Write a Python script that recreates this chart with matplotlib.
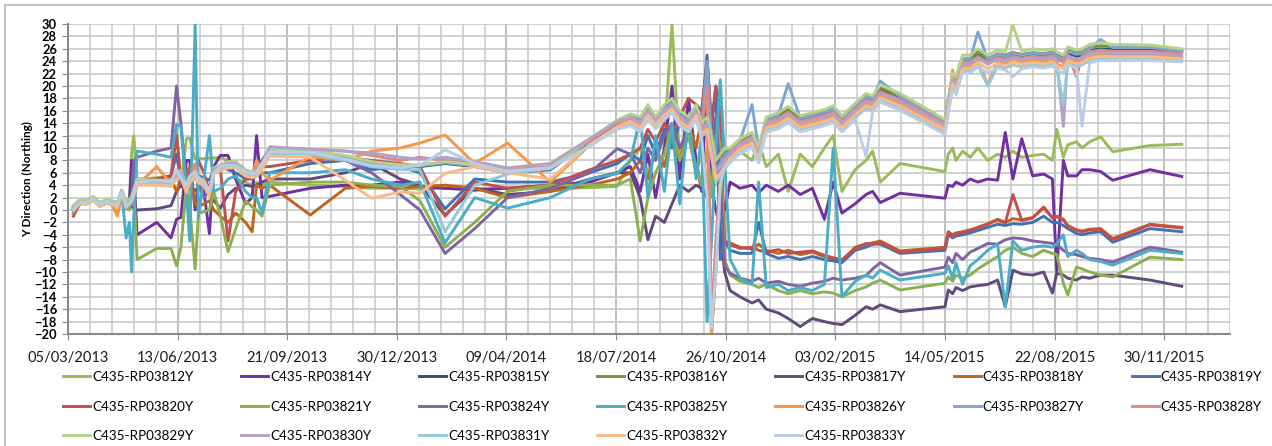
import pandas as pd
import matplotlib
matplotlib.use("Agg")
import matplotlib.pyplot as plt
import matplotlib.dates as mdates
from matplotlib.patches import Rectangle

plt.rcParams['font.family'] = ['Lato', 'DejaVu Sans']

# survey dates (shared by all prisms)
dates = [
    '2013-03-10', '2013-03-16', '2013-03-22', '2013-03-28', '2013-04-03', '2013-04-09', '2013-04-14', '2013-04-19', '2013-04-23', '2013-04-27',
    '2013-04-30', '2013-05-02', '2013-05-04', '2013-05-07', '2013-05-25', '2013-06-07', '2013-06-12', '2013-06-16', '2013-06-21', '2013-06-24',
    '2013-06-29', '2013-07-02', '2013-07-07', '2013-07-12', '2013-07-16', '2013-07-22', '2013-07-29', '2013-08-05', '2013-08-14', '2013-08-20',
    '2013-08-24', '2013-08-29', '2013-09-05',
    '2013-10-12', '2013-11-13', '2013-12-07', '2014-01-02', '2014-01-20', '2014-02-12', '2014-03-11', '2014-04-10', '2014-05-19', '2014-06-24',
    '2014-07-19',
    '2014-07-31', '2014-08-09', '2014-08-16', '2014-08-23', '2014-08-31', '2014-09-07', '2014-09-14', '2014-09-22', '2014-09-29', '2014-10-04',
    '2014-10-09', '2014-10-13', '2014-10-17', '2014-10-21', '2014-10-25',
    '2014-10-30', '2014-11-08', '2014-11-19', '2014-11-25', '2014-12-02', '2014-12-13', '2014-12-22', '2015-01-02', '2015-01-13', '2015-01-24',
    '2015-02-01', '2015-02-09', '2015-02-21', '2015-03-03', '2015-03-09', '2015-03-16', '2015-04-03', '2015-05-14',
    '2015-05-17', '2015-05-21', '2015-05-24', '2015-05-30', '2015-06-06', '2015-06-13', '2015-06-22', '2015-07-01', '2015-07-08', '2015-07-15',
    '2015-07-23', '2015-08-02', '2015-08-12', '2015-08-20', '2015-08-24', '2015-08-30', '2015-09-03', '2015-09-11', '2015-09-16', '2015-09-23',
    '2015-10-03', '2015-10-14', '2015-11-17', '2015-12-16',
]

y3812 = [-0.5, 1.2, 1.0, 1.8, 0.8, 1.2, 1.0, 0.5, 2.5, 0.5,
         2, 9, 12, 5, 5.2, 5.5, 13, 4, 11.5, 11.6, 8.2, 8.3, 8.3, 8.4, 8.4, 8.5, 8, 5, 4.5, 4, 4.5, 4, 4.5,
         4, 3.8, 3.5, 3.5, 3.4, 3.5, 3.5, 3.5, 3.5, 3.6, 3.8,
         8, 10, 6, 9, 12, 30, 8, 12, 6, 9, 5, 3, 8, 16, 9,
         8, 9.5, 8, 11, 7, 9, 3, 9, 7, 10, 12, 3, 6.5, 8, 9.5, 4.5, 7.5, 6.2,
         9, 10, 8, 9.5, 8.5, 10, 8, 9, 8.5, 9.5, 8.5, 8.8, 9, 8, 13, 8.5, 10.5, 11, 10, 11, 11.8, 9.4, 10.4, 10.6]
y3814 = [0, 1.3, 1.2, 1.9, 0.9, 1.4, 1.1, 0.6, 2.8, 0.8,
         0.5, 8, 6, -4, -2, -4.5, -1.5, -1.2, 8, 8, 0, 5, 3, -3.8, 7, 8.8, 8.8, 5, 1, 2, 12, 2, 2.2,
         3.5, 4, 4, 4.5, 3.8, 3.5, 3.2, 3.5, 4, 4.5, 6,
         7, 3, 9, 2, 10, 20, 5, 18, 8, 3, 22, 5, 10, 3, 0,
         4.5, 3.5, 4, 2.8, 4, 3, 4, 2.5, 3.5, -1.5, 4.5, -0.5, 1, 2.5, 3, 1.2, 2.7, 1.9,
         4, 3.8, 4.5, 4, 5, 4.5, 5, 4.8, 12.5, 5, 11.5, 5.5, 5.8, 5, -10, 8, 5.5, 5.5, 6.5, 6.5, 6.2, 4.8, 6.5, 5.4]
y3815 = [0.4, 1.5, 1.4, 2.0, 1.0, 1.5, 1.3, 0.9, 3.0, 0.9,
         1.5, 2.0, 2.9, 4.6, 4.5, 4.5, 5.5, 6.0, 3.5, 5.0, 6.0, 5.0, 4.5, 2.8, 6.5, 7.0, 7.5, 7.5, 6.2, 5.8, 6.0, 7.2, 9.5,
         9.3, 8.5, 7.5, 7.0, 7.0, 7.5, 7.0, 6.0, 6.5, 11.0, 14.0,
         15, 14, 16, 14.5, 16, 17, 15, 14, 16, 13, 14, 10, 6, 7, 8,
         9.5, 11, 12, 9.5, 14.5, 15, 16, 14.5, 15, 15.5, 16, 14.5, 16.5, 18, 17.7, 19.3, 18, 14.1,
         17.5, 21.5, 20.5, 24, 24, 25, 24, 24.8, 24.5, 25, 24.7, 25, 24.8, 25.1, 24.5, 24, 25.3, 24.8, 25, 25.7, 26, 25.9, 25.9, 25.5]
y3816 = [0.6, 1.6, 1.5, 2.1, 1.1, 1.6, 1.4, 1.1, 3.1, 1.1,
         1.6, 2.1, 3.1, 4.8, 4.7, 4.7, 5.7, 6.2, 3.7, 5.2, 6.2, 5.2, 4.7, 2.9, 6.7, 7.2, 7.7, 7.7, 6.4, 6.0, 6.2, 7.4, 9.7,
         9.5, 8.7, 7.7, 7.2, 7.2, 7.7, 7.2, 6.2, 6.7, 11.3, 14.3,
         15.3, 14.5, 16.5, 15, 16.5, 17.5, 15.5, 14.5, 16.5, 13.5, 14.5, 11, 7, 8, 9,
         9.8, 11.3, 12.3, 9.8, 14.8, 15.4, 16.4, 14.9, 15.4, 15.9, 16.4, 14.9, 16.9, 18.4, 18.1, 19.7, 18.4, 14.4,
         17.8, 21.8, 21, 24.4, 24.4, 25.6, 24.4, 25.2, 25, 25.4, 25.1, 25.4, 25.2, 25.5, 25, 24.5, 25.8, 25.3, 25.5, 26.2, 26.5, 26.3, 26.3, 25.8]
y3817 = [0.3, 1.4, 1.3, 1.9, 0.9, 1.4, 1.2, 0.9, 3.0, 0.7,
         1, 0.5, 0.3, 0, 0.2, 0.7, 3, 4, 3, 3.5, 3.2, 3.5, 3.4, 3.0, 1.5, 0.3, 2.5, 3.5, 4, 3.8, 4, 4.5, 5,
         5, 6, 7.5, 5, 4, -0.8, 3.5, 2.5, 3, 5, 6,
         6, 2, -4.8, -1, -2, 1, 4, 3, 4, 3.5, 2, 4, 0, -3, -10,
         -13, -14, -15, -14.5, -16, -16.6, -17.5, -18.8, -17.5, -18, -18.3, -18.5, -17, -15.6, -16, -15.3, -16.4, -15.6,
         -12.9, -13.5, -12.5, -13, -12.4, -12.2, -12, -11.3, -15.6, -9.7, -10.3, -10.5, -10, -13.4, -10.2, -10.5, -11, -11.3, -10.8, -11, -10.5, -10.5, -11.3, -12.3]
y3818 = [-0.5, 1.0, 1.0, 1.6, 0.6, 1.1, 0.9, -0.8, 2.4, 0.2,
         0.5, 1, 2, 4, 4.5, 5, 3, 5, 6, 7, 1, 0.5, 1, 1.5, 0, -1, -2, -0.5, -2, -3.5, 4, 3.5, 4,
         -0.8, 3.5, 3.8, 3.5, 3.8, 4, 3.5, 2, 3, 4, 5,
         6, 8, 5, 10, 7, 12, 8, 14, 10, 15, 20, -20, -10, 5, -5,
         -5.3, -6, -6.3, -5.5, -6.5, -7, -6.5, -7.2, -6.8, -7.5, -7.8, -8.2, -6, -5.5, -5.3, -5, -6.6, -6,
         -3.5, -4, -3.7, -3.5, -3.2, -2.8, -2.2, -1.5, -2, -1.4, -1.6, -1.2, 0.3, -1.2, -1, -1.5, -2.5, -3.2, -3.4, -3.1, -3, -4.6, -2.3, -2.8]
y3819 = [0.2, 1.3, 1.2, 1.8, 0.8, 1.3, 1.1, 0.7, 2.8, 0.6,
         1.0, 1.5, 2.5, 4.5, 5.0, 5.5, 9, 4.5, 5, 6, 5, 5.5, 5.2, 4.8, 6.5, 7, 6.5, 6, 5, 5, 5.5, 6, 6,
         7.5, 8, 6.5, 7, 6, 0.2, 5, 4.5, 4.5, 6, 7.5,
         9, 8, 12, 9, 13, 10, 14, 12, 16, 15, 25, 13, 20, -8, -5,
         -6.5, -7, -7, -2, -7, -7.8, -7.5, -8, -7.5, -8, -8.2, -8.5, -6.5, -6, -5.5, -5.5, -7, -6.5,
         -4, -4.5, -4.2, -4, -3.7, -3.3, -2.8, -2.3, -2.5, -2.2, -2.3, -2, -1, -2, -2, -2.5, -3, -3.8, -4, -3.7, -3.5, -5.2, -3, -3.5]
y3820 = [-1.0, 1.2, 1.1, 1.7, 0.7, 1.2, 1.0, 0.6, 2.6, 0.4,
         0.8, 1.2, 2.5, 4.8, 5, 5.5, 12, 5, 4, 6, 5.5, 8, 6, 3, 7, 6.5, -5, 3, 5, 5.5, 6, 7, 7,
         8, 8.5, 8, 7.5, 7, -1, 4.5, 3.5, 4, 6.5, 8,
         9, 10, 13, 11, 14, 12, 15, 18, 17, 16, 24, 14, 20, 16, -5.5,
         -5.6, -6.2, -6, -6.5, -6.8, -6.4, -7, -6.8, -6.6, -7.3, -7.7, -8, -6.2, -5.4, -5.6, -5.2, -6.8, -6.2,
         -3.7, -4.2, -3.8, -3.6, -3.3, -2.9, -2.3, -1.6, -2.1, 2.5, -1.7, -1.3, 0.5, -1.3, -1.1, -1.6, -2.6, -3.3, -3.5, -3.2, -3.1, -4.8, -2.4, -2.9]
y3821 = [-0.3, 1.1, 1.0, 1.7, 0.7, 1.1, 0.9, 0.5, 2.6, 0.3,
         0, 2, 4, -8, -6.2, -6.2, -9, -6, 4, 0.5, -9.5, -0.5, -0.3, 0, 3, -1, -6.7, -3, 1.5, 0.5, 0, -1, 4,
         4.5, 4.5, 4, 3.8, 1.5, -6, -2, 3, 4, 4, 4,
         5, -5, 2, 6, 9, 14, 8, 12, 7, 4, 10, 2, 15, 10, -8,
         -10.5, -11.5, -12, -12.5, -12, -13, -13.5, -13, -13.5, -13.2, -13.4, -14, -13, -12.4, -11.8, -11.3, -12.9, -11.8,
         -10.8, -11.5, -10.5, -11, -10.5, -9.5, -8.5, -7.5, -6.5, -6, -7, -7.5, -6.5, -7, -7.2, -11.8, -13.7, -9.2, -9.5, -10, -10.5, -10.8, -7.6, -8]
y3824 = [0.1, 1.3, 1.2, 1.9, 0.9, 1.3, 1.1, 0.8, 2.9, 0.6,
         1, 2, 8, 8.5, 9.5, 10, 20, 14, 4, 5, 6, 4, 2, 3, 6, 7, 8, 7.5, 6, 5.5, 6.5, 8, 9.8,
         9.5, 8, 6, 2.5, 0, -7, -3, 2, 3.5, 6, 9.9,
         9, 6, 10, 8, 12, 14, 10, 13, 16, 12, 22, 10, 15, 5, -9,
         -10.2, -11, -11.5, -11, -11.8, -11.5, -12, -12.3, -11.8, -11.5, -11, -11.3, -11, -10.6, -9.5, -8.5, -10.5, -9.2,
         -7.6, -8.5, -7, -8, -6.8, -6.2, -5.4, -5.5, -4.8, -4.5, -4.6, -5, -5.2, -5.4, -5.6, -6.5, -7, -7.2, -7.5, -7.8, -8, -8.4, -6, -6.8]
y3825 = [0.0, 1.2, 1.1, 1.8, 0.8, 1.2, 1.0, 0.6, 2.8, -4.5,
         -2, -10, -1, 9.5, 9, 8.5, 13.8, 13.5, 3, -5, 30, -1, 5, 12, 3, 3.5, 5, 5.5, 3, 2, 2, -0.5, 6,
         6, 6.5, 5, 4, 4.5, -5.3, 2, 0.3, 2, 5, 5.9,
         8, 15, 2, 12, 3, 14, 1, 15, 5, 12, -18, -5, 10, 21, 8,
         -8, -11, -12, 4.5, -12.5, -12, -13, -12.5, -13, -12, 10, -14, -11.5, -10.5, -11, -9.7, -11.3, -10.2,
         -9, -11, -8.5, -12, -9, -8, -6.5, -5.5, -15.6, -5, -6.5, -6, -5.8, -6, -5.5, -4, -7.5, -6.5, -7, -8, -8.3, -8.9, -6.5, -7]
y3826 = [0.0, 1.2, 1.1, 1.7, 0.7, 1.2, 1.0, -1.0, 2.5, 0.5,
         1.0, 1.5, 2.5, 4.0, 7.0, 4.2, 5.0, 5.5, 3.0, 4.5, 5.5, 4.5, 4.0, 2.5, 6.0, 6.5, 7.0, 7.0, 5.8, 5.5, 8.0, 6, 4.8,
         8.6, 8.0, 9.5, 10, 10.8, 12.1, 7.5, 10.8, 4.5, 10.5, 13.5,
         14.6, 13.6, 15.6, 14.1, 15.6, 16.6, 14.6, 13.6, 15.6, 12.6, 13.5, -20, -8, 4, 7.5,
         8.6, 10.1, 11.1, 8.6, 13.6, 14.1, 15.1, 13.6, 14.1, 14.6, 15.1, 13.6, 15.6, 17.1, 16.8, 18.4, 17.1, 13,
         16.6, 22.6, 19.6, 23.1, 23.1, 24.1, 20.2, 23.9, 23.6, 24.1, 23.8, 24.1, 23.9, 24.2, 23.6, 23.1, 24.4, 23.9, 24.1, 24.8, 25.1, 24.9, 24.9, 24.6]
y3827 = [0.5, 1.6, 1.5, 2.1, 1.1, 1.6, 1.4, 1.0, 3.2, 1.0,
         1.6, 2.1, 3.0, 4.7, 4.6, 4.6, 5.6, 6.1, 3.6, 5.1, 6.1, 5.1, 4.6, 2.8, 6.6, 7.1, 7.6, 7.6, 6.3, 5.9, 6.1, 7.3, 9.6,
         9.4, 8.6, 7.6, 7.1, 7.1, 7.6, 7.1, 6.1, 6.6, 11.2, 14.2,
         15.2, 14.3, 16.3, 14.8, 16.3, 17.3, 15.3, 14.3, 16.3, 13.3, 24, 10.5, 6.5, 7.5, 8.5,
         9.7, 11.2, 17, 9.7, 14.7, 15.3, 20.4, 14.8, 15.3, 15.8, 16.3, 14.8, 16.8, 18.3, 18, 20.8, 18.3, 14.3,
         17.7, 21.7, 20.8, 24.3, 24.3, 28.7, 24.3, 25.1, 24.8, 25.3, 25, 25.3, 25.1, 25.4, 24.8, 24.3, 25.6, 25.1, 25.3, 26, 27.5, 26.2, 26.2, 25.7]
y3828 = [0.3, 1.4, 1.3, 2.0, 0.9, 1.4, 1.2, 0.8, 3.0, 0.8,
         1.4, 1.9, 2.8, 4.7, 4.4, 5, 5.4, 6.5, 3.4, 4.9, 7.5, 4.9, 4.4, 2.7, 6.4, 6.9, 7.4, 7.4, 6.1, 5.7, 7, 7.5, 9.9,
         9.8, 9.5, 8.8, 8, 8.5, 8, 7.5, 6.5, 7, 11.2, 14.1,
         14.8, 14.2, 15.8, 14.3, 15.8, 16.8, 14.8, 13.8, 15.8, 12.8, 20, -18, -5, 5, 7.5,
         9.3, 10.8, 11.8, 9.3, 14.3, 14.8, 15.8, 14.3, 14.8, 15.3, 15.8, 14.3, 16.3, 17.8, 17.5, 19.1, 17.8, 13.9,
         17.3, 21.3, 20.3, 23.8, 23.8, 24.8, 23.8, 24.6, 24.3, 24.8, 24.5, 24.8, 24.6, 24.9, 24.3, 23.8, 25.1, 21.5, 24.8, 25.5, 25.8, 25.6, 25.6, 25.3]
y3829 = [0.8, 1.7, 1.6, 2.2, 1.2, 1.7, 1.5, 1.2, 3.2, 1.2,
         1.7, 2.2, 3.2, 5, 4.8, 4.8, 5.8, 6.3, 3.8, 5.3, 6.3, 5.3, 4.8, 3.0, 6.8, 7.3, 7.8, 7.8, 6.5, 6.1, 6.3, 7.5, 9.8,
         9.6, 8.8, 7.8, 7.3, 7.3, 7.8, 7.3, 6.3, 6.8, 11.5, 14.5,
         15.5, 15, 17, 15, 17, 18, 16, 15, 17, 14, 15, 12, 8, 9, 10,
         10, 11.5, 12.5, 10, 15, 15.7, 16.7, 15.2, 15.7, 16.2, 16.8, 15.2, 17.2, 18.8, 18.4, 20.2, 18.8, 14.6,
         18, 22, 21.5, 25, 25, 26, 25, 25.8, 25.5, 29.8, 25.6, 26, 25.8, 26, 25.5, 25, 26.3, 25.8, 26, 26.7, 27, 26.7, 26.6, 26]
y3830 = [0.2, 1.4, 1.3, 1.9, 0.9, 1.4, 1.2, 0.9, 3.0, 0.7,
         1.3, 1.8, 2.8, 4.5, 4.4, 4.5, 5.5, 6, 3.4, 5, 6, 5, 4.5, 2.8, 6.5, 7, 7.5, 7.5, 6.2, 5.8, 6, 7.2, 10.2,
         9.8, 9.5, 9.2, 8.5, 8.2, 8.5, 7.8, 6.8, 7.5, 11.5, 14.2,
         15, 14, 16, 14.5, 16, 17, 15, 14, 16, 13, 14, 10, 6, 7, 8,
         9, 10.5, 11.5, 9, 14, 14.5, 15.5, 14, 14.5, 15, 15.5, 14, 16, 17.5, 17.2, 18.8, 17.5, 13.6,
         17, 21, 20, 23.5, 23.5, 24.5, 23.5, 24.3, 24, 24.5, 24.2, 24.5, 24.3, 24.6, 24, 13.5, 24.8, 24.3, 24.5, 25.2, 25.5, 25.2, 25.2, 24.9]
y3831 = [0.2, 1.2, 1.1, 1.8, 0.8, 1.2, 1.0, 0.7, 2.8, 0.6,
         1.1, 1.5, 2.5, 4.2, 4.2, 4.0, 5.0, 5.5, 3.0, 4.7, 5.6, 4.6, 4.1, 2.5, 6.0, 6.5, 7.0, 7.0, 5.8, 5.4, 5.6, 6.8, 9.0,
         9.0, 8.0, 7.0, 6.5, 6.5, -3.5, 4, 5.8, 6.8, 10.4, 13.2,
         13.9, 12.9, 14.9, 13.4, 14.9, 15.9, 13.9, 12.9, 14.9, 11.9, 12.5, 8.5, 4.5, 5.5, 6.5,
         7.9, 9.4, 10.4, 7.9, 12.9, 13.4, 14.4, 12.9, 13.4, 13.9, 14.4, 12.9, 14.9, 16.4, 16.1, 17.7, 16.4, 12.5,
         15.9, 19.9, 18.9, 22.4, 22.4, 23.4, 20, 23.2, 22.9, 23.4, 23.1, 23.4, 23.2, 23.5, 22.9, 17, 23.7, 23.2, 23.4, 24.1, 24.4, 24.3, 24.3, 24.1]
y3832 = [0.1, 1.1, 1.0, 1.6, 0.6, 1.1, 0.9, 0.5, 2.6, 0.4,
         1.0, 1.4, 2.4, 4.0, 4.0, 3.8, 5.0, 5.2, 2.8, 4.4, 5.4, 4.4, 3.9, 2.3, 5.8, 6.3, 6.8, 6.8, 5.5, 5.2, 5.4, 6.6, 8.7,
         8.5, 4.8, 1.9, 2.9, 2.7, 5.9, 7, 6, 5, 10.6, 13.4,
         14.3, 13.3, 15.3, 13.8, 15.3, 16.3, 14.3, 13.3, 15.3, 12.3, 13, 9, 5, 6, 7,
         8.3, 9.8, 10.8, 8.3, 13.3, 13.8, 14.8, 13.3, 13.8, 14.3, 14.8, 13.3, 15.3, 16.8, 16.5, 18.1, 16.8, 12.9,
         16.3, 20.3, 19.3, 22.8, 22.8, 23.8, 22.8, 23.6, 23.3, 23.8, 23.5, 23.8, 23.6, 23.9, 23.3, 22.8, 24.1, 23.6, 23.8, 24.5, 24.8, 24.7, 24.7, 24.4]
y3833 = [0.0, 1.3, 1.2, 1.9, 0.9, 1.4, 1.1, 0.8, 3.0, 0.5,
         1.0, 1.5, 3.3, 4.5, 4.8, 4.5, 6.6, 5.1, 4.0, 5.5, 6.0, 5.0, 4.5, 3.1, 6.0, 7.0, 7.2, 7.2, 6.2, 5.8, 6.0, 7.5, 9.4,
         9.3, 8.2, 7.2, 6.8, 7.2, 9.7, 7.5, 6.2, 6.8, 10.3, 13.0,
         13.6, 12.6, 14.6, 13.1, 14.6, 15.6, 13.6, 12.6, 14.6, 11.6, 2, -19, -10, 4, 7,
         7.6, 9.1, 10.1, 7.6, 12.6, 13.1, 14.1, 12.6, 13.1, 13.6, 14.1, 12.6, 14.6, 8.6, 15.8, 17.4, 16.1, 12.2,
         15.6, 19.6, 18.6, 22.1, 22.1, 23.1, 22.1, 22.9, 22.6, 21.5, 22.8, 23.1, 22.9, 23.2, 22.6, 22.1, 23.4, 22.9, 13.5, 23.8, 24.1, 24.1, 24.1, 23.9]

series = [
    ('C435-RP03812Y', y3812, '#9BBB59'),
    ('C435-RP03814Y', y3814, '#7030A0'),
    ('C435-RP03815Y', y3815, '#215967'),
    ('C435-RP03816Y', y3816, '#77933C'),
    ('C435-RP03817Y', y3817, '#604A7B'),
    ('C435-RP03818Y', y3818, '#C0651C'),
    ('C435-RP03819Y', y3819, '#3F72B5'),
    ('C435-RP03820Y', y3820, '#C0504D'),
    ('C435-RP03821Y', y3821, '#8DB04E'),
    ('C435-RP03824Y', y3824, '#8064A2'),
    ('C435-RP03825Y', y3825, '#4BACC6'),
    ('C435-RP03826Y', y3826, '#F79646'),
    ('C435-RP03827Y', y3827, '#7FA3D2'),
    ('C435-RP03828Y', y3828, '#D98A88'),
    ('C435-RP03829Y', y3829, '#B5D18A'),
    ('C435-RP03830Y', y3830, '#B3A2C7'),
    ('C435-RP03831Y', y3831, '#8FCADB'),
    ('C435-RP03832Y', y3832, '#FAB989'),
    ('C435-RP03833Y', y3833, '#B9CDE5'),
]

W, H = 1272, 446
fig = plt.figure(figsize=(W / 100, H / 100), dpi=100)
ax = fig.add_axes([68 / W, 1 - 334 / H, (1230 - 68) / W, (334 - 24) / H])

x = pd.to_datetime(dates)
handles = []
for name, vals, col in series:
    ln, = ax.plot(x, vals, color=col, lw=2.1, label=name, solid_joinstyle='round')
    handles.append(ln)

start = pd.Timestamp('2013-03-05')
ax.set_xlim(start, start + pd.Timedelta(days=1060))
ax.set_ylim(-20, 30)
ax.set_yticks(range(-20, 31, 2))
ax.set_xticks(pd.date_range(start, periods=11, freq='100D'))
ax.set_xticks(pd.date_range(start, periods=54, freq='20D'), minor=True)
ax.xaxis.set_major_formatter(mdates.DateFormatter('%d/%m/%Y'))

ax.set_axisbelow(True)
ax.grid(True, axis='y', color='#c8c8c8', lw=1.2)
ax.grid(True, axis='x', which='minor', color='#cdcdcd', lw=1.2)
ax.grid(True, axis='x', which='major', color='#b4b4b4', lw=1.2)

for s in ['top', 'right']:
    ax.spines[s].set_visible(False)
for s in ['left', 'bottom']:
    ax.spines[s].set_color('#8a8a8a')
    ax.spines[s].set_linewidth(1.5)

ax.tick_params(axis='x', which='major', length=4, color='#8a8a8a', labelsize=10.5, pad=8, labelcolor='#1a1a1a')
ax.tick_params(axis='x', which='minor', length=0)
ax.tick_params(axis='y', length=4, color='#8a8a8a', labelsize=9.3, pad=4)
for lbl in ax.get_yticklabels():
    lbl.set_fontweight('bold')

fig.text(28 / W, 1 - 179 / H, 'Y Direction (Northing)', rotation=90, ha='center', va='center',
         fontsize=8.5, fontweight='bold')

# legend is filled column by column, so reorder to read row by row
ncol = 7
order = []
for c in range(ncol):
    for r in range(3):
        i = r * ncol + c
        if i < len(handles):
            order.append(i)
fig.legend([handles[i] for i in order], [series[i][0] for i in order],
           ncol=ncol, loc='upper left', bbox_to_anchor=(63 / W, 1 - 379 / H, 1199 / W, 8 / H),
           mode='expand', frameon=False, fontsize=9.7, handlelength=2.0, handletextpad=0.15,
           labelspacing=1.3, borderpad=0, borderaxespad=0)

fig.patches.append(Rectangle((5 / W, -0.1), 2, 1.1 - 5 / H, transform=fig.transFigure,
                             fill=False, ec='#c4c4c4', lw=1.5))

fig.savefig('out.png', dpi=100, facecolor='white')
